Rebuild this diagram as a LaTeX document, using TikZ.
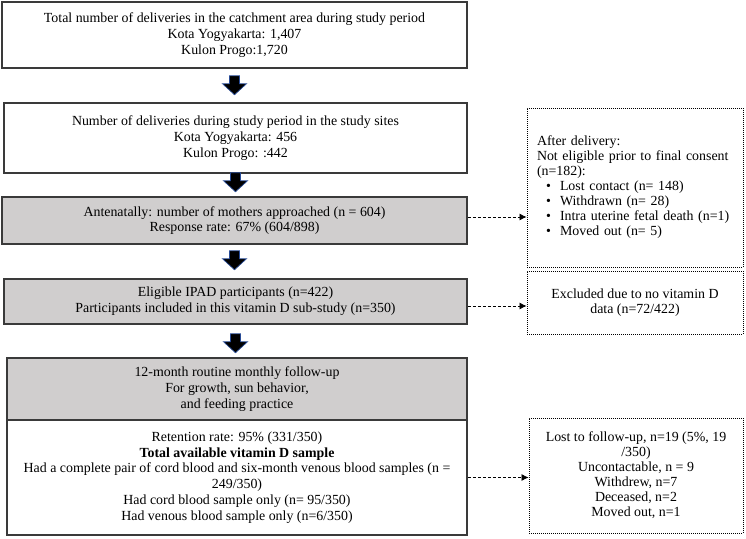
\documentclass[tikz,border=0pt]{standalone}
\usepackage{fontspec}
\setmainfont{Liberation Serif}
\usetikzlibrary{calc,arrows.meta}
\definecolor{boxgray}{RGB}{208,206,206}
\definecolor{edgegray}{RGB}{58,58,58}
\definecolor{arrblue}{RGB}{40,75,150}
\newcommand\blockarr[1]{%
  \draw[blockarrow] ($(#1)+(-5,0)$) -- ++(10,0) -- ++(0,-8) -- ++(7,0)
    -- ($(#1)+(0,-19)$) -- ($(#1)+(-12,-8)$) -- ++(7,0) -- cycle;}
\begin{document}
\begin{tikzpicture}[x=1pt,y=1pt,
  font=\fontsize{13.9}{15.8}\selectfont,
  mainbox/.style={draw=edgegray, line width=1.5pt, align=center, inner sep=0pt},
  graybox/.style={mainbox, fill=boxgray},
  sidebox/.style={draw=black, line width=0.9pt, dash pattern=on 1pt off 1pt,
    inner sep=0pt, font=\fontsize{13.9}{15}\selectfont},
  dasharrow/.style={draw=black, line width=0.8pt, dash pattern=on 3pt off 2pt,
    -{Latex[length=7pt,width=7pt]}},
  blockarrow/.style={draw=arrblue, line width=0.7pt, fill=black, line join=miter}]
\useasboundingbox (0,0) rectangle (746,-538);

\node[mainbox, minimum width=465, minimum height=66] (b1) at (234.5,-35)
  {Total number of deliveries in the catchment area during study period\\
   Kota Yogyakarta: 1,407\\ Kulon Progo:1,720};
\node[mainbox, minimum width=463, minimum height=70] (b2) at (235.5,-138)
  {Number of deliveries during study period in the study sites\\
   Kota Yogyakarta: 456\\ Kulon Progo: :442};
\node[graybox, minimum width=465, minimum height=47] (b3) at (234.5,-220.5)
  {Antenatally: number of mothers approached (n = 604)\\
   Response rate: 67\% (604/898)};
\node[graybox, minimum width=463, minimum height=45] (b4) at (235.5,-301.5)
  {Eligible IPAD participants (n=422)\\
   Participants included in this vitamin D sub-study (n=350)};
\node[graybox, minimum width=460, minimum height=62] (b5a) at (237,-389)
  {12-month routine monthly follow-up\\ For growth, sun behavior,\\ and feeding practice};
\node[mainbox, minimum width=460, minimum height=115] (b5b) at (237,-477.5)
  {Retention rate: 95\% (331/350)\\
   \textbf{Total available vitamin D sample}\\
   Had a complete pair of cord blood and six-month venous blood samples (n =\\
   249/350)\\
   Had cord blood sample only (n= 95/350)\\
   Had venous blood sample only (n=6/350)};

\node[sidebox, minimum width=216, minimum height=159, text width=196, align=left,
  inner xsep=10pt] (sa) at (635,-187.5)
  {After delivery:\\
   Not eligible prior to final consent\\
   (n=182):\\
   \hspace*{9pt}\makebox[14pt][l]{•}Lost contact (n= 148)\\
   \hspace*{9pt}\makebox[14pt][l]{•}Withdrawn (n= 28)\\
   \hspace*{9pt}\makebox[14pt][l]{•}Intra uterine fetal death (n=1)\\
   \hspace*{9pt}\makebox[14pt][l]{•}Moved out (n= 5)};
\node[sidebox, minimum width=216, minimum height=63, align=center] (sb) at (635,-302.5)
  {Excluded due to no vitamin D\\ data (n=72/422)};
\node[sidebox, minimum width=214, minimum height=115, align=center] (sc) at (636,-475.5)
  {Lost to follow-up, n=19 (5\%, 19\\ /350)\\ Uncontactable, n = 9\\
   Withdrew, n=7\\ Deceased, n=2\\ Moved out, n=1};

\path (b1.south) ++(0,-7) coordinate (t1);
\path (b2.south) ++(0,1) coordinate (t2);
\path (b3.south) ++(0,-6) coordinate (t3);
\path (b4.south) ++(0,-9) coordinate (t4);
\blockarr{t1}
\blockarr{t2}
\blockarr{t3}
\blockarr{t4}

\draw[dasharrow] ($(b3.east)+(0,3.5)$) -- ($(sa.west|-b3.east)+(0,3.5)$);
\draw[dasharrow] ($(b4.east)+(0,-4.5)$) -- ($(sb.west|-b4.east)+(0,-4.5)$);
\draw[dasharrow] (b5b.east) -- (sc.west|-b5b.east);
\end{tikzpicture}
\end{document}
